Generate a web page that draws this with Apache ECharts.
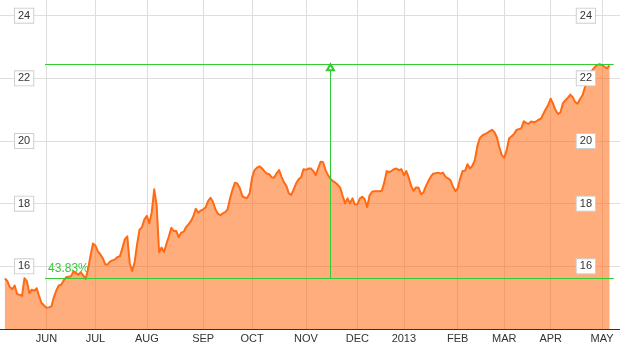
<!DOCTYPE html>
<html><head><meta charset="utf-8">
<script src="https://cdn.jsdelivr.net/npm/echarts@6/dist/echarts.min.js"></script>
<style>html,body{margin:0;padding:0;background:#fff}#c{width:620px;height:347px}</style>
</head><body><div id="c"></div>
<script>
// Daily closing prices, one per trading day (index 0 = first trading day shown)
const prices = [
15.61,15.53,15.34,15.27,15.39,15.12,15.09,15.06,15.62,15.52,
15.15,15.26,15.22,15.30,15.04,14.83,14.75,14.68,14.69,14.72,
15.01,15.23,15.39,15.41,15.55,15.65,15.67,15.68,15.84,15.79,
15.73,15.81,15.71,15.60,15.92,16.35,16.73,16.66,16.48,16.38,
16.26,16.06,16.06,16.16,16.19,16.22,16.30,16.32,16.58,16.86,
16.96,16.10,15.85,16.13,16.70,17.17,17.25,17.50,17.61,17.37,
17.73,18.46,17.95,16.45,16.60,16.46,16.72,16.96,17.23,17.13,
17.13,16.93,17.07,17.10,17.25,17.34,17.44,17.60,17.84,17.71,
17.78,17.82,17.88,18.08,18.19,18.06,17.82,17.68,17.63,17.69,
17.73,17.82,18.17,18.45,18.67,18.64,18.49,18.24,18.19,18.19,
18.33,18.84,19.07,19.15,19.19,19.13,19.04,18.96,18.94,18.84,
18.83,18.97,19.07,18.86,18.68,18.57,18.33,18.28,18.46,18.65,
18.78,18.84,19.10,19.08,19.12,19.12,19.04,18.91,19.13,19.34,
19.32,19.07,18.91,18.80,18.72,18.67,18.60,18.51,18.25,18.01,
18.17,18.01,18.17,17.97,17.98,18.16,18.22,18.14,17.89,18.27,
18.38,18.40,18.40,18.40,18.41,18.68,19.04,19.01,19.05,19.10,
19.12,19.07,19.10,18.91,19.04,18.83,18.56,18.41,18.52,18.51,
18.30,18.36,18.56,18.72,18.86,18.96,18.97,18.99,18.96,18.99,
18.86,18.81,18.75,18.56,18.40,18.49,18.80,19.04,19.05,19.26,
19.12,19.21,19.39,19.83,20.09,20.17,20.22,20.25,20.31,20.36,
20.28,20.12,19.80,19.55,19.47,19.71,20.09,20.15,20.22,20.35,
20.38,20.41,20.63,20.57,20.55,20.62,20.60,20.62,20.68,20.71,
20.87,21.02,21.16,21.35,21.18,20.98,20.86,20.92,21.21,21.30,
21.38,21.48,21.40,21.24,21.19,21.34,21.46,21.72,21.91,22.13,
22.26,22.36,22.43,22.45,22.42,22.37,22.32,22.41
];
// First trading day of each month (trading-day index) and its label
const monthTicks = [17,37,58,81,101,123,144,163,185,204,223,244];
const monthLabels = ['JUN','JUL','AUG','SEP','OCT','NOV','DEC','2013','FEB','MAR','APR','MAY'];
const yTicks = [16,18,20,22,24];
// Change annotation (start price -> high price)
const lowPrice = 15.61;
const highPrice = 22.45;
const changeLabel = '43.83%';
const annotFrom = 16.4;
const annotTo = 248.7;
const arrowAt = 133;

const FONT = '"Liberation Sans", Arial, sans-serif';
const GREEN = '#33cc33';
const GRID = '#dedede';

const chart = echarts.init(document.getElementById('c'), null, {renderer: 'canvas'});

function yAxis(pos, margin, split, z) {
  return {
    type: 'value', position: pos, min: 14, max: 24.5, z: z,
    axisLine: {show: false},
    axisTick: {show: false, customValues: yTicks},
    splitLine: {show: split, lineStyle: {color: GRID, width: 1}},
    axisLabel: {
      inside: true, margin: margin, customValues: yTicks,
      fontFamily: FONT, fontSize: 11, color: '#333',
      backgroundColor: '#fff', borderColor: '#cfcfcf', borderWidth: 1,
      padding: [2, 3, 1, 3]
    }
  };
}

chart.setOption({
  animation: false,
  backgroundColor: '#fff',
  grid: {left: 0, right: 0, top: 0, bottom: 18, containLabel: false},
  xAxis: {
    type: 'value', min: -2, max: 251.3,
    axisLine: {show: true, onZero: false, lineStyle: {color: '#333', width: 1}},
    axisTick: {show: false, customValues: monthTicks},
    splitLine: {show: true, lineStyle: {color: GRID, width: 1}},
    axisLabel: {
      customValues: monthTicks, margin: 4,
      fontFamily: FONT, fontSize: 11, color: '#333',
      formatter: function (v) { const k = monthTicks.indexOf(v); return k >= 0 ? monthLabels[k] : ''; }
    }
  },
  yAxis: [yAxis('left', 15, true, 0), yAxis('right', 25, false, 10)],
  series: [{
    type: 'line',
    data: prices.map(function (v, i) { return [i, v]; }),
    symbol: 'none', showSymbol: false, clip: false,
    lineStyle: {color: '#ff6a13', width: 2, join: 'round'},
    itemStyle: {color: '#ff6a13'},
    areaStyle: {color: '#ff6a13', opacity: 0.55, origin: 'start'},
    markLine: {
      silent: true, symbol: ['none', 'none'], animation: false,
      lineStyle: {color: GREEN, width: 1, type: 'solid'},
      label: {show: false},
      emphasis: {disabled: true},
      data: [
        [{coord: [annotFrom, lowPrice], label: {show: true, position: 'insideStartTop', formatter: changeLabel,
           color: GREEN, fontSize: 12, fontFamily: FONT, distance: [3, 4]}},
         {coord: [annotTo, lowPrice]}],
        [{coord: [annotFrom, highPrice]}, {coord: [annotTo, highPrice]}],
        [{coord: [arrowAt, lowPrice]}, {coord: [arrowAt, highPrice]}]
      ]
    },
    markPoint: {
      silent: true, symbol: 'emptyTriangle', symbolSize: [7, 6], symbolOffset: [0, 3],
      itemStyle: {color: GREEN, borderColor: GREEN, borderWidth: 1},
      label: {show: false},
      data: [{coord: [arrowAt, highPrice]}]
    }
  }]
});
</script>
</body></html>
